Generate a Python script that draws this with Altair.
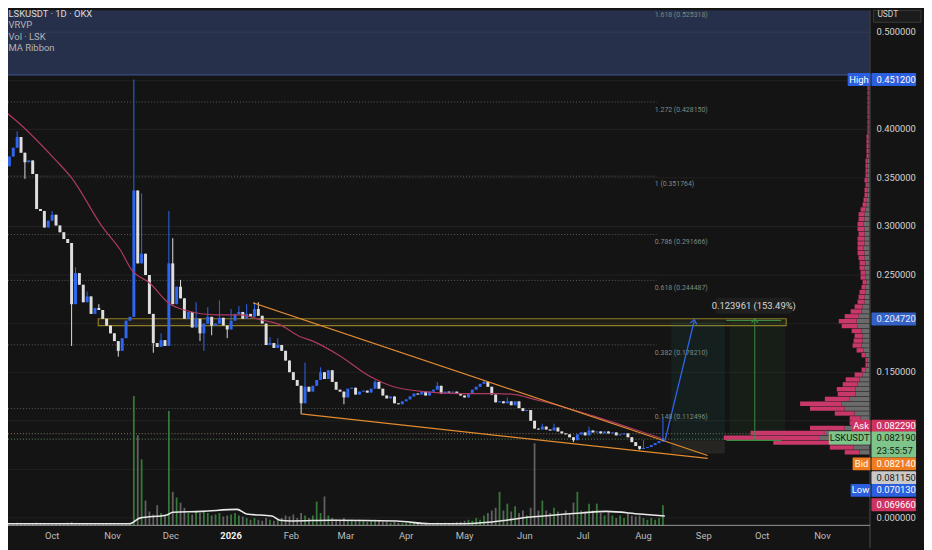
import json
import altair as alt
import pandas as pd

# ------------------------------------------------------------------ data
# day index 0 = 2025-10-01 ; one candle per 2 days
FIRST_DAY = -24
STEP = 2
FIRST_OPEN = 0.358
CLOSE = [
    0.362, 0.372, 0.381, 0.392, 0.376, 0.366, 0.368, 0.354, 0.318, 0.316,
    0.299, 0.306, 0.312, 0.301, 0.294, 0.287, 0.283, 0.220, 0.252, 0.240,
    0.222, 0.228, 0.210, 0.216, 0.214, 0.205, 0.198, 0.190, 0.182, 0.172,
    0.185, 0.203, 0.207, 0.337, 0.262, 0.272, 0.250, 0.210, 0.180, 0.176,
    0.183, 0.177, 0.262, 0.220, 0.238, 0.226, 0.205, 0.212, 0.196, 0.205,
    0.190, 0.200, 0.207, 0.198, 0.200, 0.206, 0.198, 0.194, 0.203, 0.210,
    0.212, 0.205, 0.210, 0.207, 0.215, 0.208, 0.200, 0.178, 0.180, 0.175,
    0.178, 0.172, 0.162, 0.150, 0.142, 0.136, 0.118, 0.135, 0.130, 0.136,
    0.142, 0.150, 0.143, 0.152, 0.140, 0.132, 0.130, 0.124, 0.133, 0.134,
    0.127, 0.130, 0.131, 0.129, 0.133, 0.140, 0.133, 0.126, 0.123, 0.125,
    0.118, 0.117, 0.120, 0.122, 0.125, 0.128, 0.127, 0.130, 0.126, 0.130,
    0.132, 0.136, 0.128, 0.130, 0.129, 0.130, 0.128, 0.126, 0.124, 0.128,
    0.132, 0.135, 0.138, 0.140, 0.135, 0.127, 0.119, 0.120, 0.118, 0.120,
    0.116, 0.120, 0.113, 0.110, 0.111, 0.100, 0.092, 0.091, 0.094, 0.091,
    0.090, 0.093, 0.089, 0.087, 0.086, 0.083, 0.080, 0.086, 0.088, 0.085,
    0.090, 0.088, 0.089, 0.087, 0.089, 0.087, 0.088, 0.085, 0.086, 0.087,
    0.083, 0.078, 0.074, 0.071, 0.072, 0.073, 0.075, 0.077, 0.079, 0.0822,
]
HIGH_WICK = {3: 0.398, 12: 0.316, 18: 0.258, 21: 0.233, 24: 0.220, 33: 0.4512,
             35: 0.334, 40: 0.190, 42: 0.316, 43: 0.288, 45: 0.245, 49: 0.222,
             52: 0.217, 55: 0.224, 58: 0.215, 60: 0.218, 62: 0.220, 64: 0.222,
             65: 0.222, 68: 0.186, 70: 0.185, 77: 0.160, 81: 0.155,
             95: 0.142, 111: 0.140, 123: 0.142, 129: 0.124, 138: 0.097,
             141: 0.097, 150: 0.094, 164: 0.080, 169: 0.104}
LOW_WICK = {5: 0.349, 17: 0.177, 29: 0.166, 38: 0.170, 50: 0.182, 51: 0.172,
            53: 0.188, 57: 0.185, 76: 0.107, 87: 0.117,
            146: 0.078, 163: 0.0701, 169: 0.078}
VOLUME = [  # millions of LSK per candle
    0.04, 0.05, 0.04, 0.06, 0.05, 0.04, 0.04, 0.05, 0.06, 0.04,
    0.05, 0.04, 0.04, 0.05, 0.04, 0.04, 0.06, 0.07, 0.05, 0.04,
    0.04, 0.05, 0.04, 0.04, 0.05, 0.04, 0.04, 0.05, 0.04, 0.05,
    0.04, 0.05, 0.06,
    2.52, 1.76, 1.29, 0.49, 0.28, 0.22, 0.40, 0.25, 0.20, 2.23,
    0.66, 0.55, 0.45, 0.35, 0.25, 0.22, 0.28, 0.25, 0.30, 0.25,
    0.20, 0.22, 0.25, 0.18, 0.20, 0.22, 0.25, 0.20, 0.18, 0.15,
    0.12, 0.15, 0.12, 0.10, 0.15, 0.12, 0.10, 0.12, 0.15, 0.20,
    0.18, 0.22, 0.15, 0.25, 0.20, 0.15, 0.20, 0.47, 0.25, 0.57,
    0.20, 0.15, 0.12, 0.10, 0.15, 0.10, 0.12, 0.10, 0.12, 0.10,
    0.08, 0.10, 0.12, 0.10, 0.08, 0.08, 0.06, 0.08, 0.06, 0.05,
    0.06, 0.05, 0.05, 0.04, 0.05, 0.04, 0.05, 0.04, 0.06, 0.05,
    0.06, 0.05, 0.06, 0.07, 0.08, 0.10, 0.12, 0.10, 0.15, 0.12,
    0.20, 0.25, 0.30, 0.35, 0.66, 0.30, 0.43, 0.28, 0.38, 0.25,
    0.30, 0.20, 0.35, 1.60, 0.30, 0.49, 0.30, 0.25, 0.35, 0.28,
    0.20, 0.30, 0.25, 0.45, 0.66, 0.30, 0.25, 0.43, 0.30, 0.43,
    0.25, 0.20, 0.28, 0.20, 0.15, 0.20, 0.15, 0.25, 0.20, 0.18,
    0.20, 0.15, 0.12, 0.15, 0.12, 0.15, 0.40,
]

MA_DAY = [-24, -18, 1, 10, 26, 35, 41, 50, 60, 68, 85, 97, 107, 117, 127, 134,
          147, 164, 174, 191, 211, 228, 238, 248, 258, 278, 298, 313]
MA_VAL = [0.418, 0.408, 0.370, 0.350, 0.299, 0.276, 0.255, 0.242, 0.221, 0.214,
          0.209, 0.209, 0.204, 0.199, 0.187, 0.182, 0.168, 0.145, 0.136, 0.130,
          0.128, 0.128, 0.127, 0.122, 0.117, 0.105, 0.092, 0.082]
VMA_DAY = [-24, 40, 45, 59, 62, 77, 95, 100, 113, 117, 123, 144, 177, 194, 208,
           226, 246, 272, 285, 302, 315]
VMA_VAL = [0.04, 0.04, 0.15, 0.21, 0.265, 0.28, 0.32, 0.23, 0.19, 0.11, 0.095,
           0.11, 0.095, 0.04, 0.04, 0.076, 0.17, 0.25, 0.28, 0.23, 0.19]

MONTH_DAYS = [0, 31, 61, 92, 123, 151, 182, 212, 243, 273, 304, 335, 365, 396]
MONTH_LABELS = ["Oct", "Nov", "Dec", "2026", "Feb", "Mar", "Apr", "May", "Jun",
                "Jul", "Aug", "Sep", "Oct", "Nov"]
YEAR_LABEL = "2026"
PRICE_TICKS = [0.0, 0.05, 0.1, 0.15, 0.2, 0.25, 0.3, 0.35, 0.4, 0.45, 0.5]
PRICE_LABELLED = [0.0, 0.15, 0.25, 0.3, 0.35, 0.4, 0.5]

FIB_RATIO = ["1.618", "1.272", "1", "0.786", "0.618", "0.382", "0.148"]
FIB_PRICE = [0.525318, 0.428150, 0.351764, 0.291666, 0.244487, 0.178210, 0.112496]
FIB_END_DAY = 309.5
LEVEL_PRICE = [0.0867, 0.08115]
LEVEL_END_DAY = 378.8

TL_DAY0 = [103.3, 127.9]
TL_P0 = [0.2214, 0.1071]
TL_DAY1 = [337.0, 337.0]
TL_P1 = [0.0643, 0.0612]
BAND_DAY = [25.7, 375.3]
BAND_P = [0.1980, 0.2050]
PANEL_BOTTOM = 0.4561

ZONE_DAY = [316.9, 344.1]
TARGET_P = [0.0796, 0.2020]
STOP_P = [0.0663, 0.0796]
MEAS_DAY = [346.6, 374.8]
MEAS_P = [0.0799, 0.2033]
MEAS_MID_DAY = 361.2
ARROW_DAY = [314.9, 330.0]
ARROW_P = [0.0783, 0.2023]
MEAS_LABEL = "0.123961 (153.49%)"
MEAS_LABEL_DAY = 360.7
MEAS_LABEL_P = 0.2184
MEAS_BOX_DAY = [341.1, 380.4]
MEAS_BOX_P = [0.2102, 0.2265]

VP_LOW = 0.0675
VP_STEP = 0.005
VP_TOTAL = [25, 40, 97, 147, 120, 60, 20, 20, 35, 60,
            70, 45, 32, 33, 27, 24, 15, 8, 4, 4,
            8, 13, 17, 16, 15, 18, 28, 31, 25, 19,
            15, 12, 11, 10, 8, 7, 9, 9, 10, 10,
            11, 12, 12, 12, 12, 11, 12, 12, 11, 11,
            9, 7, 6, 5, 5, 4, 5, 4, 4, 4,
            4, 3, 3, 3, 3, 3, 2, 2, 2, 2,
            2, 2, 2, 2, 2, 2, 2]
VP_GRAY = [10, 16, 35, 50, 45, 25, 9, 9, 15, 25,
           28, 20, 14, 14, 12, 10, 7, 4, 2, 2,
           4, 6, 8, 7, 7, 8, 12, 13, 11, 8,
           7, 5, 5, 4, 4, 3, 4, 4, 5, 4,
           5, 5, 6, 5, 5, 5, 5, 6, 5, 5,
           4, 3, 3, 2, 2, 2, 2, 2, 2, 2,
           2, 1, 1, 1, 1, 1, 1, 1, 1, 1,
           1, 1, 1, 1, 1, 1, 1]

TAG_LEFT = ["High", "", "Ask", "LSKUSDT", "Bid", "", "Low", ""]
TAG_VALUE = [0.4512, 0.20472, 0.08229, 0.08219, 0.08214, 0.08115, 0.07013, 0.06966]
TAG_TEXT = ["0.451200", "0.204720", "0.082290", "0.082190", "0.082140",
            "0.081150", "0.070130", "0.069660"]
TAG_SUB = ["", "", "", "23:55:57", "", "", "", ""]

LEGEND = ["LSKUSDT · 1D · OKX", "VRVP", "Vol · LSK", "MA Ribbon"]

# ------------------------------------------------------------------ style / geometry
W, H = 869, 520
XDOM = [-20.15, 417.63]
YDOM = [-0.00816, 0.52245]
PPP = H / (YDOM[1] - YDOM[0])          # pixels per price unit
BG = "#141414"
FONT = "Roboto"
UPC = "#2f66ee"
DNC = "#dedede"
TAG_BG = ["#2b5fe0", "#3461c6", "#cf325f", "#7fc48b", "#f27d1e", "#c9c9c9",
          "#2b5fe0", "#cf325f"]
TAG_FG = ["#ffffff", "#e8eefc", "#ffffff", "#10210f", "#ffffff", "#1a1a1a",
          "#ffffff", "#ffffff"]
TAG_SHIFT_PX = [0, 0, -12, 0, 26, 39, 41, 55]
TAG_LEFT_X = [855, 0, 859, 836, 860, 0, 858, 0]

xs = alt.Scale(domain=XDOM, nice=False, zero=False)
ys = alt.Scale(domain=YDOM, nice=False, zero=False)


def qx(f):
    return alt.X(f, type="quantitative", scale=xs, axis=None)


def qy(f):
    return alt.Y(f, type="quantitative", scale=ys, axis=None)


# ------------------------------------------------------------------ frames
rows = []
prev = FIRST_OPEN
for k, c in enumerate(CLOSE):
    o = prev
    up = c >= o
    rows.append({
        "day": FIRST_DAY + STEP * k, "open": o, "close": c,
        "high": max(o, c, HIGH_WICK.get(k, 0.0)),
        "low": min(o, c, LOW_WICK.get(k, 1.0)),
        "col": UPC if up else DNC,
        "vol": VOLUME[k],
        "vcol": "#3b8a41" if up else "#6f6f6f",
    })
    prev = c
cdf = pd.DataFrame(rows)

ma_df = pd.DataFrame({"day": MA_DAY, "v": MA_VAL})
vma_df = pd.DataFrame({"day": VMA_DAY, "v": VMA_VAL})

fib_df = pd.DataFrame({"p": FIB_PRICE,
                       "label": [f"{r} ({p:.6f})" for r, p in zip(FIB_RATIO, FIB_PRICE)]})
fib_df["x0"] = XDOM[0]
fib_df["x1"] = FIB_END_DAY
fib_df["lx"] = FIB_END_DAY + 0.3

lvl_df = pd.DataFrame({"p": LEVEL_PRICE, "c": ["#6f6650", "#4f7352"]})
lvl_df["x0"] = XDOM[0]
lvl_df["x1"] = LEVEL_END_DAY

grid_df = pd.DataFrame({"p": PRICE_TICKS})
grid_df["x0"] = XDOM[0]
grid_df["x1"] = XDOM[1]

month_df = pd.DataFrame({"day": MONTH_DAYS, "label": MONTH_LABELS})
price_lab_df = pd.DataFrame({"p": PRICE_LABELLED,
                             "label": [f"{p:.6f}" for p in PRICE_LABELLED]})

tl_df = pd.DataFrame({"x0": TL_DAY0, "y0": TL_P0, "x1": TL_DAY1, "y1": TL_P1})
band_df = pd.DataFrame({"x0": [BAND_DAY[0]], "x1": [BAND_DAY[1]],
                        "y0": [BAND_P[0]], "y1": [BAND_P[1]]})
panel_df = pd.DataFrame({"x0": [XDOM[0]], "x1": [XDOM[1]],
                         "y0": [PANEL_BOTTOM], "y1": [YDOM[1]]})

vp_price = [VP_LOW + VP_STEP * i for i in range(len(VP_TOTAL))]
vp_df = pd.DataFrame({"p": vp_price, "tot": VP_TOTAL, "gray": VP_GRAY})
vp_df["y0"] = vp_df["p"] - VP_STEP * 0.45
vp_df["y1"] = vp_df["p"] + VP_STEP * 0.45
vp_df["z"] = 0

tag_df = pd.DataFrame({"left": TAG_LEFT, "value": TAG_VALUE, "text": TAG_TEXT,
                       "sub": TAG_SUB})
tag_df["disp"] = tag_df["value"] - pd.Series(TAG_SHIFT_PX) / PPP
tag_df["top"] = tag_df["disp"] + 6.5 / PPP
tag_df["bot"] = tag_df["disp"] - 6.5 / PPP
tag_df["bot2"] = tag_df["disp"] - 19.5 / PPP
tag_df["subp"] = tag_df["disp"] - 13 / PPP

one = pd.DataFrame({"a": [0]})

# ------------------------------------------------------------------ group A1 (background)
grid = alt.Chart(grid_df).mark_rule(color="#222222").encode(
    x=qx("x0"), x2="x1", y=qy("p"))
panel = alt.Chart(panel_df).mark_rect(color="#27304b").encode(
    x=qx("x0"), x2="x1", y=qy("y0"), y2="y1")
panel_edge = alt.Chart(panel_df).mark_rule(color="#3c4f86", strokeWidth=1.2).encode(
    x=qx("x0"), x2="x1", y=qy("y0"))
grid05 = alt.Chart(pd.DataFrame({"p": [0.5], "x0": [XDOM[0]], "x1": [XDOM[1]]})).mark_rule(
    color="#323b58").encode(x=qx("x0"), x2="x1", y=qy("p"))
fib_lines = alt.Chart(fib_df).mark_rule(color="#5e5e5e", strokeDash=[1, 2],
                                        clip=True).encode(
    x=qx("x0"), x2="x1", y=qy("p"))
lvl_lines = alt.Chart(lvl_df).mark_rule(strokeDash=[1, 2], strokeWidth=1.2).encode(
    x=qx("x0"), x2="x1", y=qy("p"), color=alt.Color("c:N", scale=None))
band = alt.Chart(band_df).mark_rect(fill="#a08a2a", fillOpacity=0.08, stroke="#8f7d27",
                                    strokeWidth=1.2).encode(
    x=qx("x0"), x2="x1", y=qy("y0"), y2="y1")
zone_df = pd.DataFrame({
    "x0": [ZONE_DAY[0], ZONE_DAY[0], MEAS_DAY[0]],
    "x1": [ZONE_DAY[1], ZONE_DAY[1], MEAS_DAY[1]],
    "y0": [TARGET_P[0], STOP_P[0], MEAS_P[0]],
    "y1": [TARGET_P[1], STOP_P[1], MEAS_P[1]],
    "c": ["#2a8a80", "#8a7a6a", "#3a8a3e"],
    "o": [0.10, 0.17, 0.09],
})
zones = alt.Chart(zone_df).mark_rect().encode(
    x=qx("x0"), x2="x1", y=qy("y0"), y2="y1",
    color=alt.Color("c:N", scale=None), opacity=alt.Opacity("o:Q", scale=None))

A1 = alt.layer(grid, panel, grid05, panel_edge, fib_lines, lvl_lines, band, zones)

# ------------------------------------------------------------------ group B (volume)
vys = alt.Scale(domain=[0, 10], nice=False, zero=True)
vol_bars = alt.Chart(cdf).mark_bar(width=1.8, opacity=0.85, clip=True).encode(
    x=qx("day"), y=alt.Y("vol:Q", scale=vys, axis=None),
    color=alt.Color("vcol:N", scale=None))
vol_ma = alt.Chart(vma_df).mark_line(color="#e8e8e8", strokeWidth=1.6,
                                     interpolate="monotone", clip=True).encode(
    x=qx("day"), y=alt.Y("v:Q", scale=vys, axis=None))
B = alt.layer(vol_bars, vol_ma)

# ------------------------------------------------------------------ group C (volume profile)
vpx = alt.Scale(domain=[0, W], reverse=True, nice=False, zero=True)
vp_gray = alt.Chart(vp_df).mark_rect(color="#6b6b6b").encode(
    x=alt.X("z:Q", scale=vpx, axis=None), x2="gray",
    y=qy("y0"), y2="y1")
vp_pink = alt.Chart(vp_df).mark_rect(color="#c8386a").encode(
    x=alt.X("gray:Q", scale=vpx, axis=None), x2="tot",
    y=qy("y0"), y2="y1")
C = alt.layer(vp_gray, vp_pink)

# ------------------------------------------------------------------ group A2 (foreground)
wicks = alt.Chart(cdf).mark_rule(strokeWidth=1, clip=True).encode(
    x=qx("day"), y=qy("low"), y2="high", color=alt.Color("col:N", scale=None))
bodies = alt.Chart(cdf).mark_bar(width=3.0, clip=True).encode(
    x=qx("day"), y=qy("open"), y2="close", color=alt.Color("col:N", scale=None))
ma = alt.Chart(ma_df).mark_line(color="#ad3a60", strokeWidth=1.2,
                                interpolate="monotone", clip=True).encode(
    x=qx("day"), y=qy("v"))
tls = alt.Chart(tl_df).mark_rule(color="#e38b2f", strokeWidth=1.2).encode(
    x=qx("x0"), x2="x1", y=qy("y0"), y2="y1")
arrow_df = pd.DataFrame({"x0": [ARROW_DAY[0]], "x1": [ARROW_DAY[1]],
                         "y0": [ARROW_P[0]], "y1": [ARROW_P[1]]})
arrow = alt.Chart(arrow_df).mark_rule(color=UPC, strokeWidth=1.3).encode(
    x=qx("x0"), x2="x1", y=qy("y0"), y2="y1")
HEAD = "M-1,0.7L0,-0.5L1,0.7"
arrow_head = alt.Chart(arrow_df).mark_point(shape=HEAD, filled=False, color=UPC,
                                            strokeWidth=1.3, size=45, angle=14,
                                            opacity=1).encode(
    x=qx("x1"), y=qy("y1"))
meas_df = pd.DataFrame({"x": [MEAS_MID_DAY], "x0": [MEAS_DAY[0]], "x1": [MEAS_DAY[1]],
                        "y0": [MEAS_P[0]], "y1": [MEAS_P[1]]})
meas_v = alt.Chart(meas_df).mark_rule(color="#3d8a42", strokeWidth=1).encode(
    x=qx("x"), y=qy("y0"), y2="y1")
meas_h1 = alt.Chart(meas_df).mark_rule(color="#3d8a42", strokeWidth=1.2).encode(
    x=qx("x0"), x2="x1", y=qy("y1"))
meas_h0 = alt.Chart(meas_df).mark_rule(color="#3d8a42", strokeWidth=1.2).encode(
    x=qx("x0"), x2="x1", y=qy("y0"))
meas_head = alt.Chart(meas_df).mark_point(shape=HEAD, filled=False, color="#3d8a42",
                                          strokeWidth=1.2, size=40, opacity=1).encode(
    x=qx("x"), y=qy("y1"))
mbox_df = pd.DataFrame({"x0": [MEAS_BOX_DAY[0]], "x1": [MEAS_BOX_DAY[1]],
                        "y0": [MEAS_BOX_P[0]], "y1": [MEAS_BOX_P[1]],
                        "tx": [MEAS_LABEL_DAY], "ty": [MEAS_LABEL_P], "t": [MEAS_LABEL]})
mbox = alt.Chart(mbox_df).mark_rect(color="#1f1f1f", cornerRadius=2).encode(
    x=qx("x0"), x2="x1", y=qy("y0"), y2="y1")
mtext = alt.Chart(mbox_df).mark_text(color="#d8d8d8", fontSize=9.5, font=FONT,
                                     align="center", baseline="middle").encode(
    x=qx("tx"), y=qy("ty"), text="t:N")
fib_text = alt.Chart(fib_df).mark_text(color="#7e8a80", fontSize=7, font=FONT,
                                       align="left", baseline="middle", dy=8).encode(
    x=qx("lx"), y=qy("p"), text="label:N")

# axis frame lines and tick labels
frame_v = alt.Chart(one).mark_rule(color="#4e4e4e").encode(
    x=alt.value(869.5), y=alt.value(0), y2=alt.value(H + 22))
frame_h = alt.Chart(one).mark_rule(color="#9a9a9a").encode(
    x=alt.value(0), x2=alt.value(869.5), y=alt.value(H - 0.5))
month_text = alt.Chart(month_df).transform_filter(
    f"datum.label != '{YEAR_LABEL}'"
).mark_text(fontSize=9.5, font=FONT, align="center", baseline="middle",
            color="#bdbdbd").encode(
    x=qx("day"), y=alt.value(H + 10), text="label:N")
year_text = alt.Chart(month_df).transform_filter(
    f"datum.label == '{YEAR_LABEL}'"
).mark_text(fontSize=9.5, font=FONT, align="center", baseline="middle",
            color="#f2f2f2", fontWeight="bold").encode(
    x=qx("day"), y=alt.value(H + 10), text="label:N")
price_text = alt.Chart(price_lab_df).mark_text(
    fontSize=9.5, font=FONT, align="left", baseline="middle", color="#d4d4d4").encode(
    x=alt.value(876), y=qy("p"), text="label:N")

fg = [wicks, bodies, ma, tls, arrow, arrow_head, meas_v, meas_h1, meas_h0, meas_head,
      mbox, mtext, fib_text, frame_v, frame_h, month_text, year_text, price_text]

# legend lines (top-left)
for i, line in enumerate(LEGEND):
    fg.append(alt.Chart(pd.DataFrame({"t": [line]})).mark_text(
        color="#dadada" if i == 0 else "#b4b4b4", fontSize=9.5, font=FONT,
        align="left", baseline="middle").encode(
        x=alt.value(0.5), y=alt.value(3.7 + 11.4 * i), text="t:N"))

# currency box on price scale
fg.append(alt.Chart(one).mark_rect(fill="#1c1c1c", stroke="#3a3a3a").encode(
    x=alt.value(873), x2=alt.value(921), y=alt.value(0), y2=alt.value(12)))
fg.append(alt.Chart(pd.DataFrame({"t": ["USDT"]})).mark_text(
    color="#d0d0d0", fontSize=8.5, font=FONT, align="left", baseline="middle").encode(
    x=alt.value(877), y=alt.value(3.5), text="t:N"))

# price tags on the scale
for i in range(len(TAG_VALUE)):
    d = tag_df.iloc[[i]]
    bot = "bot2" if TAG_SUB[i] else "bot"
    fg.append(alt.Chart(d).mark_rect(color=TAG_BG[i], cornerRadius=1).encode(
        x=alt.value(871), x2=alt.value(916), y=qy("top"), y2=bot))
    fg.append(alt.Chart(d).mark_text(color=TAG_FG[i], fontSize=9.5, font=FONT,
                                     align="left", baseline="middle").encode(
        x=alt.value(876), y=qy("disp"), text="text:N"))
    if TAG_SUB[i]:
        fg.append(alt.Chart(d).mark_text(color=TAG_FG[i], fontSize=9.5, font=FONT,
                                         align="left", baseline="middle").encode(
            x=alt.value(876), y=qy("subp"), text="sub:N"))
    if TAG_LEFT[i]:
        lx = TAG_LEFT_X[i] - 8
        fg.append(alt.Chart(d).mark_rect(color=TAG_BG[i], cornerRadius=1).encode(
            x=alt.value(lx), x2=alt.value(870), y=qy("top"), y2="bot"))
        fg.append(alt.Chart(d).mark_text(color=TAG_FG[i], fontSize=9.5, font=FONT,
                                         align="center", baseline="middle").encode(
            x=alt.value((lx + 870) / 2), y=qy("disp"), text="left:N"))

A2 = alt.layer(*fg)

chart = alt.layer(A1, B, C, A2).resolve_scale(
    x="independent", y="independent"
).properties(
    width=W, height=H,
    autosize=alt.AutoSizeParams(type="none"),
    padding={"left": 0, "top": 0, "right": 55, "bottom": 22},
).configure(
    background=BG, font=FONT
).configure_view(stroke=None)

chart.save("out.html", embed_options={"renderer": "svg", "actions": False})
